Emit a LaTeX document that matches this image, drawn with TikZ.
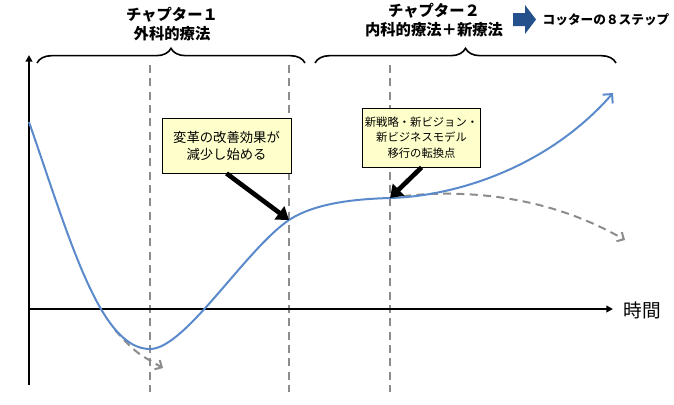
\documentclass[tikz,border=0pt]{standalone}
\usepackage{fontspec}
\setmainfont{Noto Sans CJK JP}
\usepackage{xcolor}
\usepackage{tikz}
\usetikzlibrary{positioning,calc,decorations.pathreplacing,arrows.meta}

\definecolor{curveblue}{HTML}{5A8ACB}
\definecolor{guidegray}{HTML}{8C8C8C}
\definecolor{notefill}{HTML}{FFFFCC}
\definecolor{kotterblue}{HTML}{24508C}

\tikzset{
  guide/.style={guidegray, line width=1.5pt, dash pattern=on 6pt off 4pt},
  trend/.style={curveblue, line width=1.5pt},
  fade/.style={guidegray, line width=1.5pt, dash pattern=on 6pt off 4pt, -{Straight Barb[length=4pt,width=8pt]}},
  note/.style={draw=black, line width=0.6pt, fill=notefill, align=center, inner sep=2pt},
  pointer/.style={line width=3.5pt, -{Triangle[length=9pt,width=12pt]}},
  chapbrace/.style={decorate, decoration={brace, amplitude=11pt}, line width=1.2pt},
  chaplabel/.style={font=\bfseries\fontsize{11.5}{14.25}\selectfont, align=center},
  axis/.style={line width=1.5pt, -{Triangle[length=5pt,width=5pt]}}
}

\begin{document}
\begin{tikzpicture}[x=0.75pt,y=-0.75pt]
\useasboundingbox (0,0) rectangle (674,404);
\coordinate (origin) at (29,309);
\coordinate (ytop) at (29,55);
\coordinate (ybot) at (29,385);
\coordinate (xend) at (613,309);
\coordinate (slow) at (289,220);
\coordinate (shift) at (390,198);

\foreach \gx in {150,289,390}
  \draw[guide] (\gx,65) -- (\gx,392);

\draw[axis] (ybot) -- (ytop);
\draw[axis] (origin) -- (xend);
\node[anchor=west, font=\fontsize{14}{16}\selectfont] (time) at (619,310) {時間};

\draw[fade] (115,330) .. controls (135,352) .. (163,368);
\draw[fade] (shift) .. controls (440,190) and (535,188) .. (625,240);
\draw[trend, -{Straight Barb[length=5pt,width=10pt]}] (29,122)
  .. controls (70,240) and (100,349) .. (150,349)
  .. controls (185,349) and (245,250) .. (slow)
  .. controls (315,203) and (355,199) .. (shift)
  .. controls (460,196) and (550,165) .. (613,93);

\draw[chapbrace] (37,63) -- (305,63);
\draw[chapbrace] (315,63) -- (616,63);
\node[chaplabel] (chap1) at (172,24) {チャプター１\\外科的療法};
\node[chaplabel] (chap2) at (434,20) {チャプター２\\内科的療法＋新療法};

\fill[kotterblue] (513,13) -- (525,13) -- (525,5) -- (536,19.5) -- (525,34) -- (525,26) -- (513,26) -- cycle;
\node[anchor=west, font=\bfseries\fontsize{9.5}{11}\selectfont] (kotter) at (538,20) {コッターの８ステップ};

\node[note, minimum width=96.75pt, minimum height=41.25pt, font=\fontsize{10}{12.75}\selectfont] (effectnote) at (226.5,145.5) {変革の改善効果が\\減少し始める};
\node[note, minimum width=87.75pt, minimum height=44.25pt, font=\fontsize{8.5}{11.6}\selectfont] (shiftnote) at (421.5,137.5) {新戦略・新ビジョン・\\新ビジネスモデル\\移行の転換点};

\draw[pointer] (effectnote.south) -- (slow);
\draw[pointer] (shiftnote.south) -- (shift);
\end{tikzpicture}
\end{document}
